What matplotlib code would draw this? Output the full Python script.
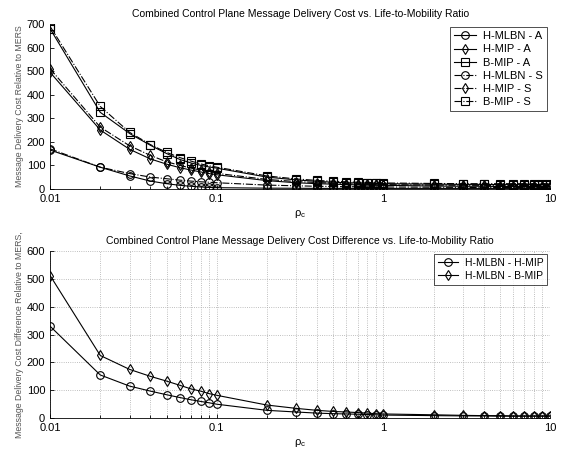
import matplotlib
matplotlib.use("Agg")
import matplotlib.pyplot as plt
from matplotlib.ticker import FixedLocator, NullFormatter

plt.rcParams['font.family'] = ['Liberation Sans', 'DejaVu Sans']
plt.rcParams['mathtext.default'] = 'regular'

# life-to-mobility ratio sample points
rho = [0.01, 0.02, 0.03, 0.04, 0.05, 0.06, 0.07, 0.08, 0.09, 0.1,
       0.2, 0.3, 0.4, 0.5, 0.6, 0.7, 0.8, 0.9, 1,
       2, 3, 4, 5, 6, 7, 8, 9, 10]

# delivery cost relative to MERS
hmlbn_a = [165, 92, 55, 33, 22, 15, 11, 8, 6, 5,
           3, 2.5, 2, 2, 2, 2, 2, 2, 2,
           2, 2, 2, 2, 2, 2, 2, 2, 2]
hmip_a = [495, 250, 168, 127, 105, 90, 80, 72, 65, 60,
          35, 26, 22, 20, 18, 17, 16, 15, 15,
          12, 11, 11, 10, 10, 10, 10, 10, 10]
bmip_a = [680, 325, 235, 185, 150, 125, 110, 100, 93, 88,
          50, 38, 32, 28, 26, 25, 24, 23, 22,
          20, 19, 19, 18, 18, 18, 18, 18, 18]
hmlbn_s = [170, 92, 65, 50, 43, 37, 33, 30, 28, 26,
           16, 13, 11, 10, 9, 9, 8, 8, 8,
           7, 6, 6, 6, 6, 6, 6, 6, 6]
hmip_s = [510, 262, 183, 142, 115, 100, 88, 80, 72, 66,
          40, 31, 27, 24, 22, 21, 20, 19, 18,
          16, 15, 15, 14, 14, 14, 14, 14, 14]
bmip_s = [690, 350, 240, 188, 155, 133, 118, 106, 98, 92,
          55, 42, 36, 32, 30, 28, 27, 26, 25,
          23, 22, 22, 22, 22, 22, 22, 22, 22]

# cost differences
diff_hmip = [330, 155, 115, 97, 84, 74, 66, 60, 55, 50,
             28, 22, 18, 16, 15, 14, 13, 12, 11,
             9, 8, 8, 7, 7, 7, 7, 7, 7]
diff_bmip = [512, 225, 175, 150, 133, 118, 105, 97, 88, 82,
             47, 35, 28, 24, 22, 20, 18, 16, 15,
             12, 10, 9, 9, 8, 8, 8, 8, 8]

fig = plt.figure(figsize=(5.63, 4.54), dpi=100)
ax1 = fig.add_axes([0.089, 0.584, 0.888, 0.363])
ax2 = fig.add_axes([0.089, 0.079, 0.888, 0.368])

mk = dict(color='black', markerfacecolor='none', markeredgecolor='black',
          markersize=5.5, markeredgewidth=0.8, linewidth=0.8)

ax1.plot(rho, hmlbn_a, '-o', label='H-MLBN - A', **mk)
ax1.plot(rho, hmip_a, '-d', label='H-MIP - A', **mk)
ax1.plot(rho, bmip_a, '-s', label='B-MIP - A', **mk)
ax1.plot(rho, hmlbn_s, '-.o', label='H-MLBN - S', **mk)
ax1.plot(rho, hmip_s, '-.d', label='H-MIP - S', **mk)
ax1.plot(rho, bmip_s, '-.s', label='B-MIP - S', **mk)

ax2.plot(rho, diff_hmip, '-o', label='H-MLBN - H-MIP', **mk)
ax2.plot(rho, diff_bmip, '-d', label='H-MLBN - B-MIP', **mk)

for ax, ymax, title, ylab, lfs, lsp in [
        (ax1, 700, 'Combined Control Plane Message Delivery Cost vs. Life-to-Mobility Ratio',
         'Message Delivery Cost Relative to MERS', 8, 0.28),
        (ax2, 600, 'Combined Control Plane Message Delivery Cost Difference vs. Life-to-Mobility Ratio',
         'Message Delivery Cost Difference Relative to MERS,', 7.5, 0.3)]:
    ax.set_xscale('log')
    ax.set_xlim(0.01, 10)
    ax.set_ylim(0, ymax)
    ax.set_yticks(range(0, ymax + 1, 100))
    ax.set_xticks([0.01, 0.1, 1, 10])
    ax.set_xticklabels(['0.01', '0.1', '1', '10'])
    ax.xaxis.set_minor_locator(FixedLocator([m * d for d in (0.01, 0.1, 1) for m in range(2, 10)]))
    ax.xaxis.set_minor_formatter(NullFormatter())
    ax.tick_params(direction='in', labelsize=8, length=3, width=0.6)
    ax.tick_params(which='minor', direction='in', length=2, width=0.6)
    ax.spines['top'].set_visible(False)
    ax.spines['right'].set_visible(False)
    for s in ('left', 'bottom'):
        ax.spines[s].set_linewidth(0.6)
    ax.set_title(title, fontsize=7.5, pad=5)
    ax.set_ylabel(ylab, fontsize=6.3, color='#555555', labelpad=2)
    ax.set_xlabel(r'$\rho_c$', fontsize=8, labelpad=3)
    leg = ax.legend(loc='upper right', fontsize=lfs, frameon=True, fancybox=False,
                    borderpad=0.35, labelspacing=lsp, handlelength=2.0,
                    handletextpad=0.6, borderaxespad=0.3)
    leg.get_frame().set_edgecolor('black')
    leg.get_frame().set_linewidth(0.6)

ax2.grid(True, which='both', linestyle=':', color='#aaaaaa', linewidth=0.6)

fig.savefig('out.png', dpi=100)
